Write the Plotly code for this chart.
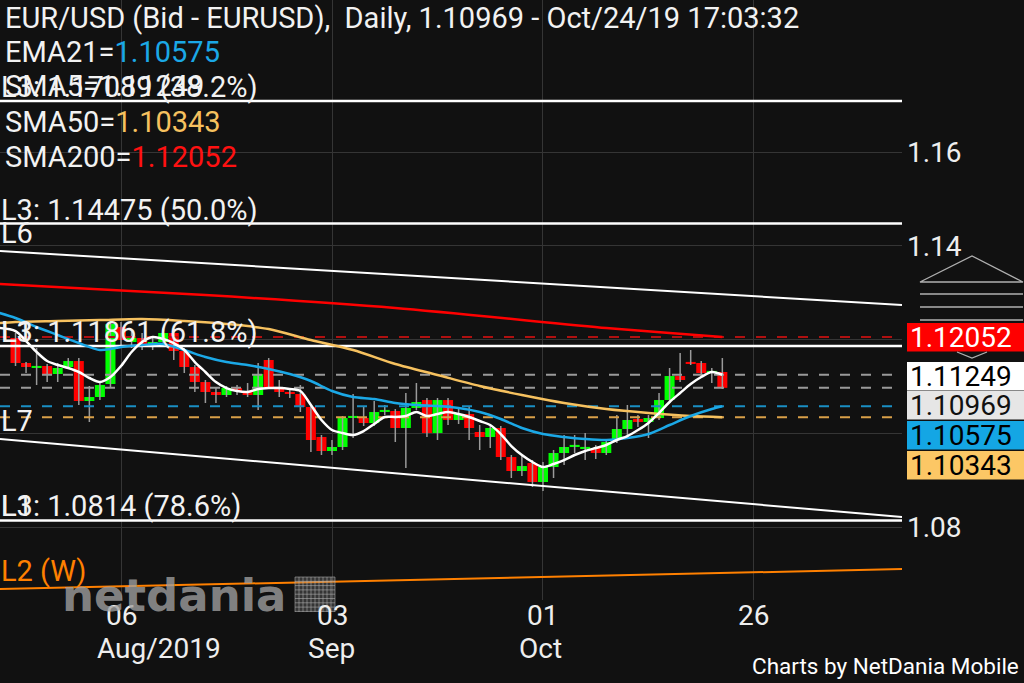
import plotly.graph_objects as go
import pandas as pd

# ---------------- data ----------------
dates = pd.bdate_range("2019-07-23", "2019-10-24").strftime("%Y-%m-%d").tolist()

opens = [1.12032, 1.11499, 1.11392, 1.11435, 1.11264, 1.11413, 1.11541, 1.10688, 1.10773, 1.11051,
         1.12267, 1.11947, 1.12032, 1.11883, 1.11947, 1.12139, 1.11755, 1.11413, 1.11093, 1.10880,
         1.10816, 1.10965, 1.10901, 1.10816, 1.11563, 1.10987, 1.10880, 1.10837, 1.10560, 1.09920,
         1.09621, 1.09707, 1.10325, 1.10325, 1.10219, 1.10453, 1.10475, 1.10112, 1.10539, 1.10709,
         1.10005, 1.10709, 1.10283, 1.10411, 1.10027, 1.09920, 1.10112, 1.09493, 1.09195, 1.09365,
         1.08960, 1.09280, 1.09579, 1.09707, 1.09664, 1.09685, 1.09579, 1.09856, 1.10091, 1.10304,
         1.10240, 1.10325, 1.10709, 1.11221, 1.11499, 1.11499, 1.11285, 1.11307]
highs = [1.12139, 1.11520, 1.11819, 1.11477, 1.11499, 1.11605, 1.11605, 1.11008, 1.11072, 1.12416,
         1.12373, 1.12203, 1.12139, 1.12053, 1.12245, 1.12203, 1.11819, 1.11456, 1.11136, 1.10965,
         1.11008, 1.11029, 1.11072, 1.11499, 1.11605, 1.11136, 1.10965, 1.11029, 1.10603, 1.09963,
         1.09856, 1.10368, 1.10837, 1.10560, 1.10688, 1.10603, 1.10517, 1.10859, 1.11072, 1.10752,
         1.10752, 1.10752, 1.10560, 1.10560, 1.10176, 1.10176, 1.10155, 1.09536, 1.09536, 1.09429,
         1.09387, 1.09643, 1.09963, 1.09963, 1.10005, 1.09749, 1.09856, 1.10389, 1.10603, 1.10389,
         1.10389, 1.10859, 1.11392, 1.11712, 1.11776, 1.11541, 1.11392, 1.11605]
lows = [1.11435, 1.11285, 1.11029, 1.11093, 1.11093, 1.11371, 1.10603, 1.10240, 1.10709, 1.10965,
        1.11883, 1.11819, 1.11776, 1.11776, 1.11883, 1.11563, 1.11285, 1.10880, 1.10645, 1.10645,
        1.10773, 1.10816, 1.10773, 1.10496, 1.10944, 1.10773, 1.10752, 1.10453, 1.09600, 1.09536,
        1.09536, 1.09643, 1.09899, 1.10155, 1.10155, 1.10389, 1.09813, 1.09259, 1.10496, 1.09920,
        1.09856, 1.10176, 1.10197, 1.09856, 1.09643, 1.09685, 1.09429, 1.09045, 1.09088, 1.08853,
        1.08768, 1.09045, 1.09323, 1.09579, 1.09429, 1.09451, 1.09536, 1.09792, 1.09920, 1.10133,
        1.09899, 1.10283, 1.10645, 1.11093, 1.11456, 1.11179, 1.11072, 1.10944]
closes = [1.11499, 1.11413, 1.11413, 1.11243, 1.11392, 1.11541, 1.10688, 1.10773, 1.11029, 1.12331,
          1.11989, 1.12032, 1.11883, 1.11947, 1.12139, 1.11755, 1.11413, 1.11093, 1.10880, 1.10816,
          1.10965, 1.10901, 1.10816, 1.11264, 1.10987, 1.10880, 1.10837, 1.10560, 1.09856, 1.09621,
          1.09707, 1.10325, 1.10347, 1.10219, 1.10453, 1.10475, 1.10112, 1.10539, 1.10667, 1.10005,
          1.10709, 1.10283, 1.10411, 1.10112, 1.09920, 1.10112, 1.09493, 1.09195, 1.09301, 1.08960,
          1.09280, 1.09579, 1.09707, 1.09728, 1.09685, 1.09579, 1.09813, 1.10091, 1.10283, 1.10240,
          1.10325, 1.10709, 1.11221, 1.11136, 1.11477, 1.11285, 1.11307, 1.10969]

# moving averages (position on the bar index, value)
sma5_idx = [-1.5] + list(range(0, 68))
sma5_val = [1.12245, 1.12181, 1.11968, 1.11733, 1.11541, 1.11456, 1.11392, 1.11307, 1.11179, 1.11093,
            1.11200, 1.11435, 1.11733, 1.11947, 1.12053, 1.12011, 1.11925, 1.11776, 1.11520, 1.11307,
            1.11093, 1.10965, 1.10901, 1.10880, 1.10944, 1.10965, 1.10965, 1.10944, 1.10901, 1.10603,
            1.10283, 1.10069, 1.10005, 1.09963, 1.10048, 1.10197, 1.10347, 1.10347, 1.10368, 1.10453,
            1.10368, 1.10411, 1.10453, 1.10411, 1.10347, 1.10261, 1.10176, 1.09984, 1.09728, 1.09536,
            1.09387, 1.09280, 1.09344, 1.09429, 1.09536, 1.09621, 1.09685, 1.09749, 1.09856, 1.09941,
            1.10069, 1.10219, 1.10432, 1.10667, 1.10859, 1.11051, 1.11200, 1.11307, 1.11249]
ema21_idx = [-1.5, 0, 2, 4, 6, 8, 9, 10, 12, 14, 16, 18, 20, 22, 24, 26, 28, 30, 32, 34, 36, 38,
             40, 42, 44, 46, 48, 50, 52, 54, 56, 58, 60, 62, 64, 66, 67]
ema21_val = [1.12565, 1.12459, 1.12267, 1.12096, 1.11925, 1.11776, 1.11797, 1.11840, 1.11883, 1.11904,
             1.11776, 1.11627, 1.11520, 1.11456, 1.11371, 1.11264, 1.11115, 1.10901, 1.10773, 1.10731,
             1.10645, 1.10603, 1.10581, 1.10539, 1.10453, 1.10304, 1.10112, 1.09984, 1.09920, 1.09877,
             1.09856, 1.09899, 1.09984, 1.10176, 1.10368, 1.10517, 1.10575]
sma50_idx = [-1.5, 0, 4, 8, 12, 16, 20, 24, 28, 32, 36, 40, 44, 48, 52, 56, 60, 64, 67]
sma50_val = [1.12352, 1.12373, 1.12395, 1.12416, 1.12437, 1.12395, 1.12331, 1.12224, 1.11989, 1.11776,
             1.11477, 1.11243, 1.11008, 1.10816, 1.10645, 1.10517, 1.10432, 1.10368, 1.10343]
sma200_idx = [-1.5, 18, 36, 56, 62, 67]
sma200_val = [1.13184, 1.12949, 1.12672, 1.12245, 1.12139, 1.12052]

# last values (price boxes / dashed levels)
level_names = ["SMA200", "SMA5", "Bid", "EMA21", "SMA50"]
level_values = [1.12052, 1.11249, 1.10969, 1.10575, 1.10343]

# fibonacci retracement levels
fib_levels = [1.17089, 1.14475, 1.11861, 1.0814]
fib_labels = ["L3: 1.17089 (38.2%)", "L3: 1.14475 (50.0%)", "L3: 1.11861 (61.8%)", "L3: 1.0814 (78.6%)"]

# trend lines: value at left edge / right edge of the view
trend_names = ["L6", "L7", "L2 (W)"]
trend_start = [1.13888, 1.09877, 1.06677]
trend_end = [1.12736, 1.08213, 1.07104]

tick_dates = ["2019-08-06", "2019-09-03", "2019-10-01", "2019-10-29"]
tick_day = ["06", "03", "01", "26"]
tick_month = ["Aug/2019", "Sep", "Oct", ""]

# ---------------- layout constants ----------------
W, H = 1024, 683
PW, PH = 902, 600            # plot area in pixels
X0, X1 = -1.47, 84.03        # view on bar index
Y0, Y1 = 1.06443, 1.19243    # view on price
FONT = "Roboto"
BG = "#111111"
GREEN, RED, WICK = "#00ff00", "#ff0000", "#9a9a9a"
BLUE, ORANGE, RED2 = "#1ba8e6", "#f6c15f", "#ff1111"


def px(x):
    return x / PW


def py(y):
    return 1 - y / PH


all_days = pd.bdate_range("2019-07-23", "2019-12-31")
tick_idx = [all_days.get_loc(pd.Timestamp(d)) for d in tick_dates]
idx = list(range(len(dates)))

fig = go.Figure()

# wicks
wx, wy = [], []
for i, h, l in zip(idx, highs, lows):
    wx += [i, i, None]
    wy += [l, h, None]
fig.add_trace(go.Scatter(x=wx, y=wy, mode="lines", line=dict(color=WICK, width=1.5),
                         hoverinfo="skip", showlegend=False))

# bodies
bases = [min(o, c) for o, c in zip(opens, closes)]
heights = [max(abs(c - o), 0.00045) for o, c in zip(opens, closes)]
colors = [GREEN if c > o else RED for o, c in zip(opens, closes)]
fig.add_trace(go.Bar(x=idx, y=heights, base=bases, width=0.95, marker=dict(color=colors, line=dict(width=0)),
                     hoverinfo="skip", showlegend=False))

# dashed last-value levels
level_colors = ["#b01010", "#9a9a9a", "#9a9a9a", "#1a8fc4", "#d9a048"]
for v, col in zip(level_values, level_colors):
    fig.add_trace(go.Scatter(x=[X0, X1 - 0.4], y=[v, v], mode="lines",
                             line=dict(color=col, width=2, dash="10px,11px"),
                             hoverinfo="skip", showlegend=False))

# trend lines
trend_colors = ["#ffffff", "#ffffff", "#ff8000"]
for s, e, col in zip(trend_start, trend_end, trend_colors):
    fig.add_trace(go.Scatter(x=[X0, X1], y=[s, e], mode="lines", line=dict(color=col, width=2),
                             hoverinfo="skip", showlegend=False))

# fibonacci lines
for v in fib_levels:
    fig.add_trace(go.Scatter(x=[X0, X1], y=[v, v], mode="lines", line=dict(color="#ffffff", width=2.5),
                             hoverinfo="skip", showlegend=False))

# moving averages
for xs, ys, col in [(sma200_idx, sma200_val, "#ff0000"), (sma50_idx, sma50_val, ORANGE),
                    (ema21_idx, ema21_val, BLUE), (sma5_idx, sma5_val, "#ffffff")]:
    fig.add_trace(go.Scatter(x=xs, y=ys, mode="lines", line=dict(color=col, width=2.5, shape="spline", smoothing=0.8),
                             hoverinfo="skip", showlegend=False))

ann = []
shapes = []


def txt(x, y, t, size=29, color="#f2f2f2", xanchor="left", yanchor="middle", xref="paper", yref="paper",
        yshift=0, xshift=0, fam=FONT):
    ann.append(dict(x=x, y=y, xref=xref, yref=yref, text=t, showarrow=False, xanchor=xanchor, yanchor=yanchor,
                    yshift=yshift, xshift=xshift, font=dict(family=fam, size=size, color=color)))


# header
txt(px(3), py(18), "EUR/USD (Bid - EURUSD),\u00a0\u00a0Daily, 1.10969 - Oct/24/19 17:03:32")
txt(px(3), py(52), f"EMA21=<span style='color:{BLUE}'>{level_values[3]:.5f}</span>")
txt(px(3), py(86), f"SMA5={level_values[1]:.5f}")
txt(px(3), py(122), f"SMA50=<span style='color:{ORANGE}'>{level_values[4]:.5f}</span>")
txt(px(3), py(157), f"SMA200=<span style='color:{RED2}'>{level_values[0]:.5f}</span>")

# fib labels
for v, lab in zip(fib_levels, fib_labels):
    txt(px(-1), v, lab, yref="y", yshift=14)
for v in fib_levels[2:]:
    txt(px(-1), v, "L1", yref="y", yshift=14)

# trend labels
for s, name, col in zip(trend_start, trend_names, ["#f2f2f2", "#f2f2f2", "#ff8000"]):
    txt(px(-1), s, name, yref="y", yshift=18, color=col)

# x tick labels (day centred on the tick, month left-aligned below)
for ti, d, m in zip(tick_idx, tick_day, tick_month):
    txt(ti, py(615), d, size=28, color="#eeeeee", xanchor="center", xref="x")
    if m:
        txt(ti, py(648), m, size=28, color="#eeeeee", xanchor="left", xref="x", xshift=-26)

# price boxes
box_fill = ["#ff0000", "#ffffff", "#e6e6e6", "#14a6e4", "#fcc765"]
box_text = ["#ffffff", "#000000", "#111111", "#000000", "#000000"]
box_top = [323, 362, 391, 421, 451]
for v, f, tc, top in zip(level_values, box_fill, box_text, box_top):
    shapes.append(dict(type="rect", xref="paper", yref="paper", x0=px(907), x1=px(1026), y0=py(top), y1=py(top + 28.5),
                       fillcolor=f, line=dict(width=0), layer="above"))
    txt(px(908), py(top + 14.5), f"{v:.5f}", size=28, color=tc)

# scroll widget on the price axis
wline = dict(color="#b0b0b0", width=1.3)
shapes.append(dict(type="path", xref="paper", yref="paper",
                   path=f"M {px(920)},{py(282)} L {px(972)},{py(256)} L {px(1023)},{py(282)} Z",
                   line=wline))
for yy in [294, 307, 320]:
    shapes.append(dict(type="line", xref="paper", yref="paper", x0=px(920), x1=px(1023), y0=py(yy), y1=py(yy), line=wline))
shapes.append(dict(type="path", xref="paper", yref="paper",
                   path=f"M {px(957)},{py(352)} L {px(972)},{py(358)} L {px(987)},{py(352)}", line=wline))

# netdania logo
txt(px(174), py(595), "<b>netdania</b>", size=45, color="rgba(160,160,160,0.8)", xanchor="center", fam="DejaVu Sans")
shapes.append(dict(type="rect", xref="paper", yref="paper", x0=px(295), x1=px(335), y0=py(612), y1=py(577),
                   fillcolor="rgba(140,140,140,0.3)", line=dict(width=0)))
for k in range(11):
    xx = 295 + k * 4
    shapes.append(dict(type="line", xref="paper", yref="paper", x0=px(xx), x1=px(xx), y0=py(612), y1=py(577),
                       line=dict(color="rgba(180,180,180,0.55)", width=1)))
for k in range(9):
    yy = 577 + k * 4.3
    shapes.append(dict(type="line", xref="paper", yref="paper", x0=px(295), x1=px(335), y0=py(yy), y1=py(yy),
                       line=dict(color="rgba(180,180,180,0.55)", width=1)))

# footer
txt(px(1021), py(666), "Charts by NetDania Mobile", size=22.5, color="#ffffff", xanchor="right")

fig.update_layout(
    width=W, height=H,
    margin=dict(l=0, r=W - PW, t=0, b=H - PH),
    paper_bgcolor=BG, plot_bgcolor=BG,
    barmode="overlay", showlegend=False,
    annotations=ann, shapes=shapes,
    xaxis=dict(range=[X0, X1], tickvals=tick_idx, showticklabels=False, showgrid=True, gridcolor="#353535",
               gridwidth=1, zeroline=False, showline=False, ticks="", fixedrange=True),
    yaxis=dict(range=[Y0, Y1], side="right", tickvals=[1.08, 1.10, 1.12, 1.14, 1.16],
               ticktext=["1.08", "", "", "1.14", "1.16"], showgrid=True, gridcolor="#353535", gridwidth=1,
               zeroline=False, showline=False, ticks="", ticklabelstandoff=4,
               tickfont=dict(family=FONT, size=28, color="#eeeeee"), fixedrange=True),
)

fig.write_html("out.html", config={"displayModeBar": False},
               post_script="document.body.style.margin='0px';document.body.style.background='#111111';")
